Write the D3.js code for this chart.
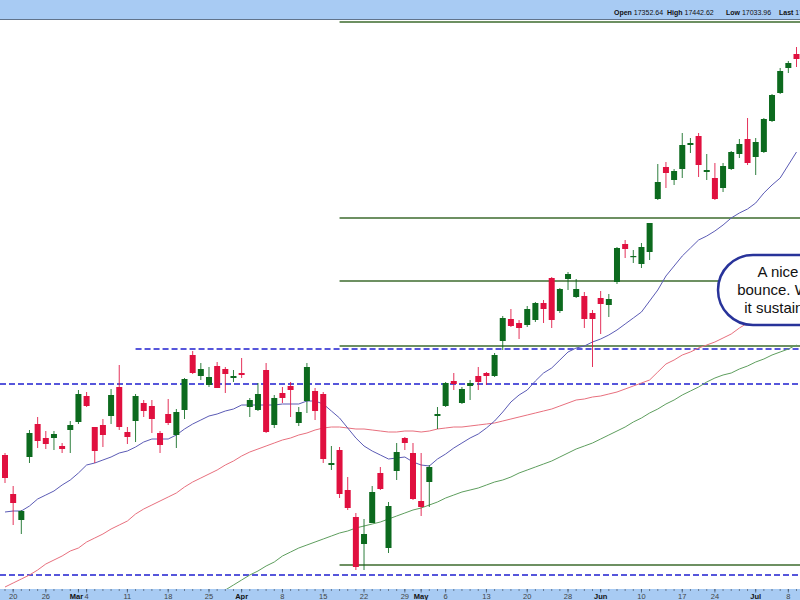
<!DOCTYPE html>
<html><head><meta charset="utf-8">
<script src="https://cdn.jsdelivr.net/npm/d3@7"></script>
<style>body{margin:0;background:#fff}svg{display:block}</style>
</head><body>
<svg id="c" width="800" height="600"></svg>
<script>
const dates = [
 "2024-02-16","2024-02-20","2024-02-21","2024-02-22","2024-02-23","2024-02-26","2024-02-27","2024-02-28","2024-02-29",
 "2024-03-01","2024-03-04","2024-03-05","2024-03-06","2024-03-07","2024-03-08","2024-03-11","2024-03-12","2024-03-13","2024-03-14","2024-03-15",
 "2024-03-18","2024-03-19","2024-03-20","2024-03-21","2024-03-22","2024-03-25","2024-03-26","2024-03-27","2024-03-28",
 "2024-04-01","2024-04-02","2024-04-03","2024-04-04","2024-04-05","2024-04-08","2024-04-09","2024-04-10","2024-04-11","2024-04-12",
 "2024-04-15","2024-04-16","2024-04-17","2024-04-18","2024-04-19","2024-04-22","2024-04-23","2024-04-24","2024-04-25","2024-04-26","2024-04-29","2024-04-30",
 "2024-05-01","2024-05-02","2024-05-03","2024-05-06","2024-05-07","2024-05-08","2024-05-09","2024-05-10","2024-05-13","2024-05-14","2024-05-15","2024-05-16","2024-05-17",
 "2024-05-20","2024-05-21","2024-05-22","2024-05-23","2024-05-24","2024-05-28","2024-05-29","2024-05-30","2024-05-31",
 "2024-06-03","2024-06-04","2024-06-05","2024-06-06","2024-06-07","2024-06-10","2024-06-11","2024-06-12","2024-06-13","2024-06-14",
 "2024-06-17","2024-06-18","2024-06-20","2024-06-21","2024-06-24","2024-06-25","2024-06-26","2024-06-27","2024-06-28",
 "2024-07-01","2024-07-02","2024-07-03","2024-07-05","2024-07-08","2024-07-09"];

const open = [15835,15640,15510,15825,15990,15920,15920,15880,15960,16000,
 16130,15975,15985,16030,16175,15950,16005,16095,16080,15945,
 16040,15935,16060,16335,16230,16185,16280,16265,16220,16245,
 16075,16060,16260,15985,16145,16180,15995,16105,16155,16140,
 15785,15860,15660,15525,15390,15495,15745,15370,15755,15920,
 15845,15605,15700,16030,16080,16205,16095,16180,16230,16245,
 16230,16405,16515,16495,16485,16510,16595,16720,16555,16715,
 16625,16630,16545,16620,16585,16700,16890,16825,16790,16850,
 17115,17275,17210,17265,17385,17430,17250,17220,17170,17265,
 17340,17415,17325,17350,17505,17645,17770,17840];
const high = [15845,15680,15560,15960,16025,15955,15955,15895,16005,16160,
 16150,15975,16015,16165,16285,15975,16140,16110,16110,15955,
 16115,16065,16220,16355,16295,16275,16300,16275,16260,16320,
 16120,16195,16295,16135,16175,16200,16075,16295,16170,16150,
 15880,15875,15725,15545,15515,15680,15775,15600,15895,15925,
 15895,15845,15785,16075,16200,16245,16175,16210,16275,16250,
 16345,16530,16565,16510,16580,16600,16610,16725,16670,16750,
 16715,16650,16560,16655,16640,16875,16910,16860,16895,16995,
 17290,17300,17265,17445,17420,17445,17340,17295,17295,17355,
 17415,17520,17420,17520,17640,17770,17805,17875];
const low = [15695,15485,15440,15795,15870,15865,15860,15845,15845,15990,
 16075,15795,15875,15990,15960,15890,15900,16025,15945,15845,
 15985,15870,16015,16240,16210,16175,16170,16145,16200,16220,
 16025,16055,15945,15970,16095,16025,15980,16045,16010,15795,
 15760,15620,15560,15260,15260,15495,15660,15345,15710,15860,
 15610,15530,15575,15965,16075,16160,16090,16110,16160,16185,
 16225,16360,16475,16415,16475,16500,16495,16470,16545,16660,
 16620,16470,16275,16440,16525,16690,16820,16795,16770,16810,
 17110,17170,17185,17220,17345,17225,17210,17110,17150,17260,
 17320,17285,17235,17345,17500,17640,17745,17775];
const close = [15720,15595,15555,15945,15905,15890,15940,15865,15985,16140,
 16080,15855,15935,16135,15975,15925,16130,16055,16015,15885,
 15995,16050,16215,16245,16265,16225,16170,16240,16230,16235,
 16110,16140,15950,16120,16120,16160,16050,16275,16055,15815,
 15795,15640,15570,15275,15440,15650,15665,15580,15850,15895,
 15615,15575,15775,16040,16195,16190,16165,16195,16200,16230,
 16335,16520,16480,16470,16565,16595,16565,16510,16665,16740,
 16665,16515,16515,16590,16615,16870,16865,16830,16875,16995,
 17200,17245,17255,17385,17395,17285,17260,17115,17280,17350,
 17390,17295,17400,17515,17635,17755,17795,17815];

const ma20 = [15550,15555,15555,15580,15615,15635,15655,15685,15710,15745,
 15785,15795,15810,15825,15845,15855,15875,15900,15915,15915,
 15915,15935,15965,15990,16010,16030,16040,16055,16065,16085,
 16085,16085,16085,16085,16090,16090,16090,16105,16105,16090,
 16055,16020,15970,15920,15880,15855,15835,15815,15820,15825,
 15800,15785,15780,15815,15840,15870,15895,15920,15940,15970,
 16005,16050,16100,16135,16160,16205,16245,16270,16310,16350,
 16370,16380,16400,16415,16435,16460,16490,16520,16550,16605,
 16660,16730,16780,16830,16870,16910,16930,16955,16985,17020,
 17045,17065,17095,17145,17185,17220,17285,17350];
const ma50 = [15175,15195,15215,15235,15260,15290,15310,15330,15355,15370,
 15400,15420,15440,15465,15485,15505,15540,15565,15585,15605,
 15625,15645,15675,15700,15720,15740,15760,15785,15805,15830,
 15850,15865,15880,15895,15910,15920,15935,15945,15960,15970,
 15975,15975,15970,15965,15965,15960,15955,15950,15950,15955,
 15955,15950,15955,15965,15970,15975,15975,15980,15985,15990,
 15995,16005,16015,16025,16035,16045,16055,16065,16080,16095,
 16110,16115,16125,16130,16140,16150,16165,16180,16195,16210,
 16250,16290,16310,16335,16350,16370,16385,16400,16420,16440,
 16470,16495,16520,16545,16570,16595,16620,16645];
const ma200 = [null,null,null,null,null,null,null,null,null,null,
 null,null,null,null,null,null,null,null,null,null,
 null,null,null,null,null,null,null,15160,15185,15210,
 15235,15255,15280,15300,15330,15350,15370,15385,15400,15415,
 15430,15445,15455,15470,15480,15490,15500,15515,15530,15545,
 15560,15570,15585,15600,15620,15635,15650,15660,15670,15685,
 15700,15710,15725,15745,15760,15775,15790,15805,15825,15845,
 15865,15880,15895,15915,15935,15955,15975,16000,16020,16045,
 16065,16090,16110,16135,16155,16175,16200,16220,16235,16245,
 16265,16280,16300,16315,16335,16350,16365,16385];

const tickDates = ["2024-02-20","2024-02-26","2024-03-01","2024-03-04","2024-03-11","2024-03-18","2024-03-25",
 "2024-04-01","2024-04-08","2024-04-15","2024-04-22","2024-04-29","2024-05-01","2024-05-06","2024-05-13",
 "2024-05-20","2024-05-28","2024-06-03","2024-06-10","2024-06-17","2024-06-24","2024-07-01","2024-07-08"];
const tickLabels = ["20","26","Mar","4","11","18","25","Apr","8","15","22","29","May","6","13","20","28","Jun","10","17","24","Jul","8"];

const supportLevels = [18000,17020,16705,16380,15285];
const supportStart = "2024-04-17";
const dashedLevels = [16365,16190,15235];
const dashedStarts = ["2024-03-12",null,null];

const headerLabels = ["Open","High","Low","Last"];
const headerValues = ["17352.64","17442.62","17033.96","17431.62"];
const calloutLines = ["A nice","bounce. Will","it sustain?"];

// ---------- drawing ----------
const svg = d3.select("#c");
const W = 800, H = 600, plotTop = 20, plotBottom = 589;
const FONT = "Arial, 'Liberation Sans', sans-serif";

const x = d3.scalePoint().domain(dates).range([5, 796.5]);
const y = d3.scaleLinear().domain([15110, 18110]).range([600, 0]);

svg.append("rect").attr("width", W).attr("height", H).attr("fill", "#fff");

const defs = svg.append("defs");
defs.append("clipPath").attr("id", "plotClip")
  .append("rect").attr("x", 0).attr("y", plotTop).attr("width", W).attr("height", plotBottom - plotTop);

const plot = svg.append("g").attr("clip-path", "url(#plotClip)");

// dashed blue levels
dashedLevels.forEach((v, i) => {
  const x0 = dashedStarts[i] ? x(dashedStarts[i]) : 0;
  plot.append("line").attr("x1", x0).attr("x2", W)
    .attr("y1", y(v)).attr("y2", y(v))
    .attr("stroke", "#1f1fd0").attr("stroke-width", 1.4).attr("stroke-dasharray", "6,3");
});
// green support/resistance levels
supportLevels.forEach(v => {
  plot.append("line").attr("x1", x(supportStart)).attr("x2", W)
    .attr("y1", y(v)).attr("y2", y(v))
    .attr("stroke", "#3d6b2e").attr("stroke-width", 1.6);
});

// moving averages
const maLine = arr => d3.line()
  .defined((d, i) => arr[i] != null)
  .x((d, i) => x(dates[i]))
  .y((d, i) => y(arr[i]))(arr);
plot.append("path").attr("d", maLine(ma200)).attr("fill", "none").attr("stroke", "#5e9e5e").attr("stroke-width", 1);
plot.append("path").attr("d", maLine(ma50)).attr("fill", "none").attr("stroke", "#e8707e").attr("stroke-width", 1);
plot.append("path").attr("d", maLine(ma20)).attr("fill", "none").attr("stroke", "#5b5bb5").attr("stroke-width", 1);

// candles
const up = "#0c6a1e", down = "#e0103f";
const bw = 6;
const cg = plot.append("g");
dates.forEach((d, i) => {
  const cx = x(d);
  const col = close[i] >= open[i] ? up : down;
  cg.append("line").attr("x1", cx).attr("x2", cx)
    .attr("y1", y(high[i])).attr("y2", y(low[i]))
    .attr("stroke", col).attr("stroke-width", 1).attr("opacity", 0.85);
  const yt = y(Math.max(open[i], close[i])), yb = y(Math.min(open[i], close[i]));
  cg.append("rect").attr("x", cx - bw / 2).attr("y", yt)
    .attr("width", bw).attr("height", Math.max(1.2, yb - yt))
    .attr("fill", col);
});

// callout
const cb = plot.append("g");
cb.append("rect").attr("x", 718).attr("y", 255).attr("width", 130).attr("height", 70)
  .attr("rx", 35).attr("ry", 35).attr("fill", "#fff").attr("stroke", "#28339a").attr("stroke-width", 2.5);
calloutLines.forEach((t, i) => {
  cb.append("text").attr("x", 778).attr("y", 277 + i * 18).attr("text-anchor", "middle")
    .attr("font-family", FONT).attr("font-size", 15).attr("fill", "#111").text(t);
});

// header bar
svg.append("rect").attr("x", 0).attr("y", 0).attr("width", W).attr("height", 19).attr("fill", "#a8cbf3");
svg.append("line").attr("x1", 0).attr("x2", W).attr("y1", 19.5).attr("y2", 19.5).attr("stroke", "#61738a").attr("stroke-width", 1);
const hx = [614, 667, 726, 779];
headerLabels.forEach((l, i) => {
  const t = svg.append("text").attr("x", hx[i]).attr("y", 15).attr("font-family", FONT).attr("font-size", 7).attr("fill", "#111");
  t.append("tspan").attr("font-weight", "bold").text(l);
  t.append("tspan").text(" " + headerValues[i]);
});

// bottom axis band
const ax = svg.append("g");
ax.append("rect").attr("x", 0).attr("y", plotBottom).attr("width", W).attr("height", H - plotBottom).attr("fill", "#a8cbf3");
dates.forEach(d => {
  ax.append("line").attr("x1", x(d)).attr("x2", x(d)).attr("y1", plotBottom).attr("y2", plotBottom + 2)
    .attr("stroke", "#55657a").attr("stroke-width", 0.8);
});
tickDates.forEach((d, i) => {
  const isMonth = /[A-Za-z]/.test(tickLabels[i]);
  ax.append("line").attr("x1", x(d)).attr("x2", x(d)).attr("y1", plotBottom).attr("y2", plotBottom + 3.5)
    .attr("stroke", "#45556a").attr("stroke-width", 0.8);
  ax.append("text").attr("x", x(d) + (isMonth && i === 2 ? -2 : 0)).attr("y", 598.5).attr("text-anchor", "middle")
    .attr("font-family", FONT).attr("font-size", 7.5)
    .attr("font-weight", isMonth ? "bold" : "normal")
    .attr("fill", isMonth ? "#111" : "#444").text(tickLabels[i]);
});
</script>
</body></html>
